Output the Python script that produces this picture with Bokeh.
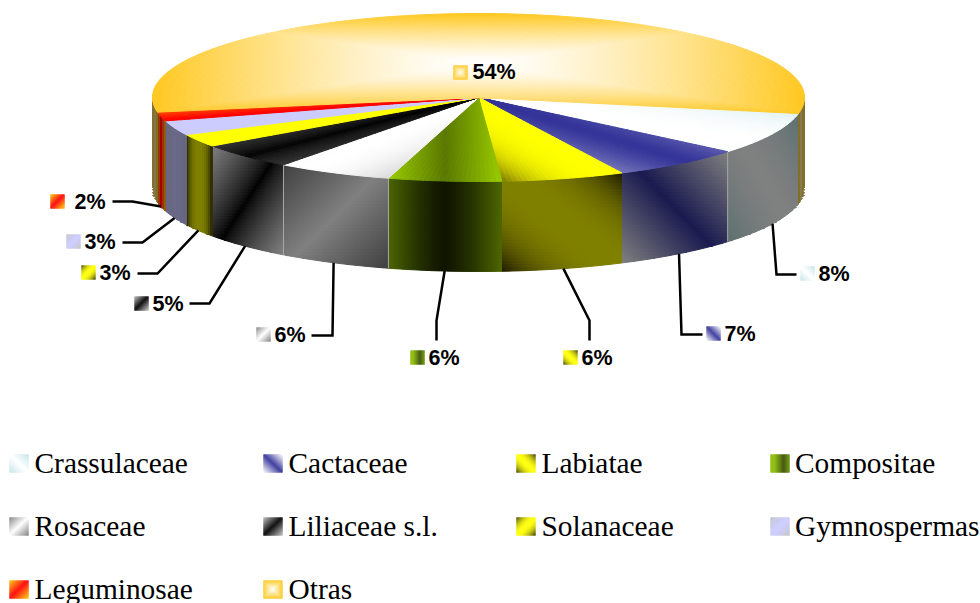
import math
from bokeh.plotting import figure
from bokeh.models import Range1d
from bokeh.core.properties import value
from bokeh.embed import file_html
from bokeh.resources import INLINE

# ---- data ----
categories = ["Crassulaceae", "Cactaceae", "Labiatae", "Compositae", "Rosaceae",
              "Liliaceae s.l.", "Solanaceae", "Gymnospermas", "Leguminosae", "Otras"]
shares = [8.1, 6.6, 6.1, 5.6, 5.75, 5.0, 2.5, 2.8, 1.7, 55.85]
labels = ["8%", "7%", "6%", "6%", "6%", "5%", "3%", "3%", "2%", "54%"]

# ---- styles ----
top_style = [
    ("#FFFFFF", "#C4E4E8", "d1", 2.0), ("#333399", "#FFFFFF", "d1", 1.3),
    ("#FFFF00", "#1A1500", "d1", 3.0), ("#5A7800", "#99CC00", "h", 1.0),
    ("#FFFFFF", "#808080", "d2", 2.0), ("#000000", "#808080", "d2", 0.7),
    ("#FFFF00", "#FFFF00", "h", 1.0), ("#CCCCFF", "#CCCCFF", "h", 1.0),
    ("#FF0000", "#FFCC00", "d2", 1.0), ("#FFFFFF", "#FFC820", "r", 1.4),
]
wall_style = [
    ("#808080", "#5C7070", "d1", 1.5), ("#1A1A50", "#808080", "d1", 1.0),
    ("#808000", "#1E1A00", "d1", 2.5), ("#0F1500", "#4D6600", "h", 1.3),
    ("#808080", "#404040", "d2", 1.0), ("#000000", "#808080", "d2", 0.8),
    ("#808000", "#1E1E00", "h", 2.5), ("#6A6A88", "#666680", "h", 1.0),
    ("#A80000", "#8A6A10", "h", 1.0), ("#857A50", "#806818", "h", 1.0),
]
swatch_style = [
    ("#FFFFFF", "#C4E4E8", "d1", 1.0), ("#333399", "#FFFFFF", "d1", 1.0),
    ("#FFFF00", "#333300", "d1", 2.0), ("#3A5000", "#8DBF00", "h", 1.0),
    ("#FFFFFF", "#808080", "d2", 1.0), ("#000000", "#C0C0C0", "d2", 1.0),
    ("#FFFF00", "#333300", "d2", 2.0), ("#CCCCFF", "#C0C0C0", "d2", 1.5),
    ("#FF0000", "#FFCC00", "d2", 1.0), ("#FFFFFF", "#FFC820", "r", 1.0),
]

CX, CY, RX, RY, DEPTH = 478.0, 97.0, 326.0, 84.0, 90.0
START = 79.0

# layout of the value labels: swatch left, text left, baseline y, elbow offsets
label_swatch_x = [800, 706, 563, 410, 256, 134, 81, 66, 50, 453]
label_swatch_y = [266, 326, 350, 350, 327, 296, 265, 234, 194, 65]
label_text_x = [818, 724, 581, 428, 274, 152, 99, 84, 74, 472]
label_base_y = [273, 333, 357, 357, 334, 303, 272, 241, 201, 71]
leader_elbow = [[(776, 274), (796, 274)], [(681, 334), (702, 334)],
                [(589, 320), (589, 340)], [(436, 320), (436, 340)],
                [(332, 335), (311, 335)], [(209, 303), (189, 303)],
                [(157, 273), (137, 273)], [(142, 242), (122, 242)],
                [(132, 201), (112, 201)], None]

legend_col_x = [9, 263, 516, 770]
legend_text_x = [34, 288, 541, 794.5]
legend_row_y = [454, 517, 580]
legend_base_y = [462, 525, 588]


def hex2rgb(h):
    return tuple(int(h[i:i + 2], 16) for i in (1, 3, 5))


def grad(style, u, v, shift=0.0):
    c0, c1, mode, pw = style
    if mode == "d1":
        t = abs(u - v) / 2
    elif mode == "d2":
        t = abs(u + v) / 2
    elif mode == "h":
        t = abs(u - shift)
    else:
        t = max(abs(u), abs(v))
    t = min(1.0, t) ** pw
    a, b = hex2rgb(c0), hex2rgb(c1)
    return "#%02x%02x%02x" % tuple(int(round(a[i] + (b[i] - a[i]) * t)) for i in range(3))


def rim(t):
    r = math.radians(t)
    return CX + RX * math.sin(r), CY + RY * math.cos(r)


p = figure(width=980, height=603, x_range=Range1d(0, 980), y_range=Range1d(603, 0),
           x_axis_type=None, y_axis_type=None, toolbar_location=None,
           output_backend="svg", min_border=0, outline_line_color=None,
           background_fill_color="white", border_fill_color="white")
p.grid.visible = False

# angles of the slices from the values
edges = [START]
for s in shares:
    edges.append(edges[-1] - 3.6 * s)


def y_at(x):
    k = max(-1.0, min(1.0, (x - CX) / RX))
    return CY + RY * math.sqrt(1 - k * k)


def draw_wall(ta, tb, style):
    ta, tb = min(ta, 90.0), max(tb, -90.0)
    if ta <= tb:
        return
    samples = [rim(tb + (ta - tb) * i / 40) for i in range(41)]
    x0, x1 = round(min(s[0] for s in samples)), round(max(s[0] for s in samples))
    y0, y1 = min(s[1] for s in samples), max(s[1] for s in samples) + DEPTH
    cols = sorted({x0, x1} | set(range(x0 - x0 % 2 + 2, x1, 2)))
    xs, ys, cs = [], [], []
    for xa, xb in zip(cols[:-1], cols[1:]):
        ta_y, tb_y = y_at(xa), y_at(xb)
        low = int(min(ta_y, tb_y))
        low -= low % 3
        high = int(max(ta_y, tb_y) + DEPTH) + 3
        for ya in range(low, high, 3):
            yb = ya + 3
            q = [max(ya, ta_y), max(ya, tb_y), min(yb, tb_y + DEPTH), min(yb, ta_y + DEPTH)]
            if q[0] >= yb and q[1] >= yb:
                continue
            if q[2] <= ya and q[3] <= ya:
                continue
            q = [min(q[0], yb), min(q[1], yb), max(q[2], ya), max(q[3], ya)]
            mx, my = (xa + xb) / 2, sum(q) / 4
            u = 2 * (mx - x0) / (x1 - x0) - 1
            v = 2 * (my - y0) / (y1 - y0) - 1
            xs.append([xa, xb, xb, xa])
            ys.append(q)
            cs.append(grad(style, u, v))
    p.patches(xs, ys, fill_color=cs, line_color=cs, line_width=1.0)


for i, st in enumerate(wall_style):
    ta, tb = edges[i], edges[i + 1]
    if i == len(wall_style) - 1:
        draw_wall(ta, -90.0, st)
        draw_wall(90.0, tb + 360.0, st)
    else:
        draw_wall(ta, tb, st)

# light separators on the walls
for k in (1, 4, 5):
    x, y = rim(edges[k])
    p.line([x, x], [y, y + DEPTH], line_color="#A8A8A8", line_width=1)


def draw_top(ta, tb, style):
    arc = [rim(tb + (ta - tb) * i / 200) for i in range(201)] + [(CX, CY)]
    x0, x1 = min(s[0] for s in arc), max(s[0] for s in arc)
    y0, y1 = min(s[1] for s in arc), max(s[1] for s in arc)
    length = sum(math.hypot(arc[i + 1][0] - arc[i][0], arc[i + 1][1] - arc[i][1]) for i in range(200))
    nt = max(6, int(length / 5))
    nr = 40
    xs, ys, cs = [], [], []
    for i in range(nt):
        t0 = tb + (ta - tb) * i / nt
        t1 = tb + (ta - tb) * (i + 1) / nt
        p0, p1 = rim(t0), rim(t1)
        for j in range(nr):
            r0, r1 = j / nr, (j + 1) / nr
            qx = [CX + (p0[0] - CX) * r0, CX + (p1[0] - CX) * r0,
                  CX + (p1[0] - CX) * r1, CX + (p0[0] - CX) * r1]
            qy = [CY + (p0[1] - CY) * r0, CY + (p1[1] - CY) * r0,
                  CY + (p1[1] - CY) * r1, CY + (p0[1] - CY) * r1]
            mx, my = sum(qx) / 4, sum(qy) / 4
            u = 2 * (mx - x0) / (x1 - x0) - 1
            v = 2 * (my - y0) / (y1 - y0) - 1
            xs.append(qx)
            ys.append(qy)
            cs.append(grad(style, u, v))
    p.patches(xs, ys, fill_color=cs, line_color=cs, line_width=1.0)


for i, st in enumerate(top_style):
    draw_top(edges[i], edges[i + 1], st)


def draw_swatch(x, y, w, h, style):
    xs, ys, cs = [], [], []
    for a in range(w):
        for b in range(h):
            u = 2 * ((a + 0.5) / w) - 1
            v = 2 * ((b + 0.5) / h) - 1
            xs.append([x + a + 0.25, x + a + 0.75, x + a + 0.75, x + a + 0.25])
            ys.append([y + b + 0.25, y + b + 0.25, y + b + 0.75, y + b + 0.75])
            cs.append(grad(style, u, v, shift=0.4 if style[2] == "h" else 0.0))
    p.patches(xs, ys, fill_color=cs, line_color=cs, line_width=1.0)


# leaders
for i, elbow in enumerate(leader_elbow):
    if elbow is None:
        continue
    mid = (edges[i] + edges[i + 1]) / 2
    x, y = rim(mid)
    lx = [x] + [e[0] for e in elbow]
    ly = [y + DEPTH] + [e[1] for e in elbow]
    p.line(lx, ly, line_color="black", line_width=2.5, line_join="miter")

# value labels
for i, lab in enumerate(labels):
    draw_swatch(label_swatch_x[i], label_swatch_y[i], 14, 14, swatch_style[i])
p.text(label_text_x, label_base_y, text=labels, text_font=value("Liberation Sans"),
       text_font_style="bold", text_font_size=value("21.5px"), text_color="black",
       text_baseline="alphabetic", text_align="left")

# legend
leg_x, leg_y, leg_t = [], [], []
for i, name in enumerate(categories):
    col, row = i % 4, i // 4
    draw_swatch(legend_col_x[col], legend_row_y[row], 19, 18, swatch_style[i])
    leg_x.append(legend_text_x[col])
    leg_y.append(legend_base_y[row])
    leg_t.append(name)
p.text(leg_x, leg_y, text=leg_t, text_font=value("Liberation Serif"),
       text_font_size=value("29.4px"), text_color="black",
       text_baseline="alphabetic", text_align="left")

open("out.html", "w").write(file_html(p, INLINE))
